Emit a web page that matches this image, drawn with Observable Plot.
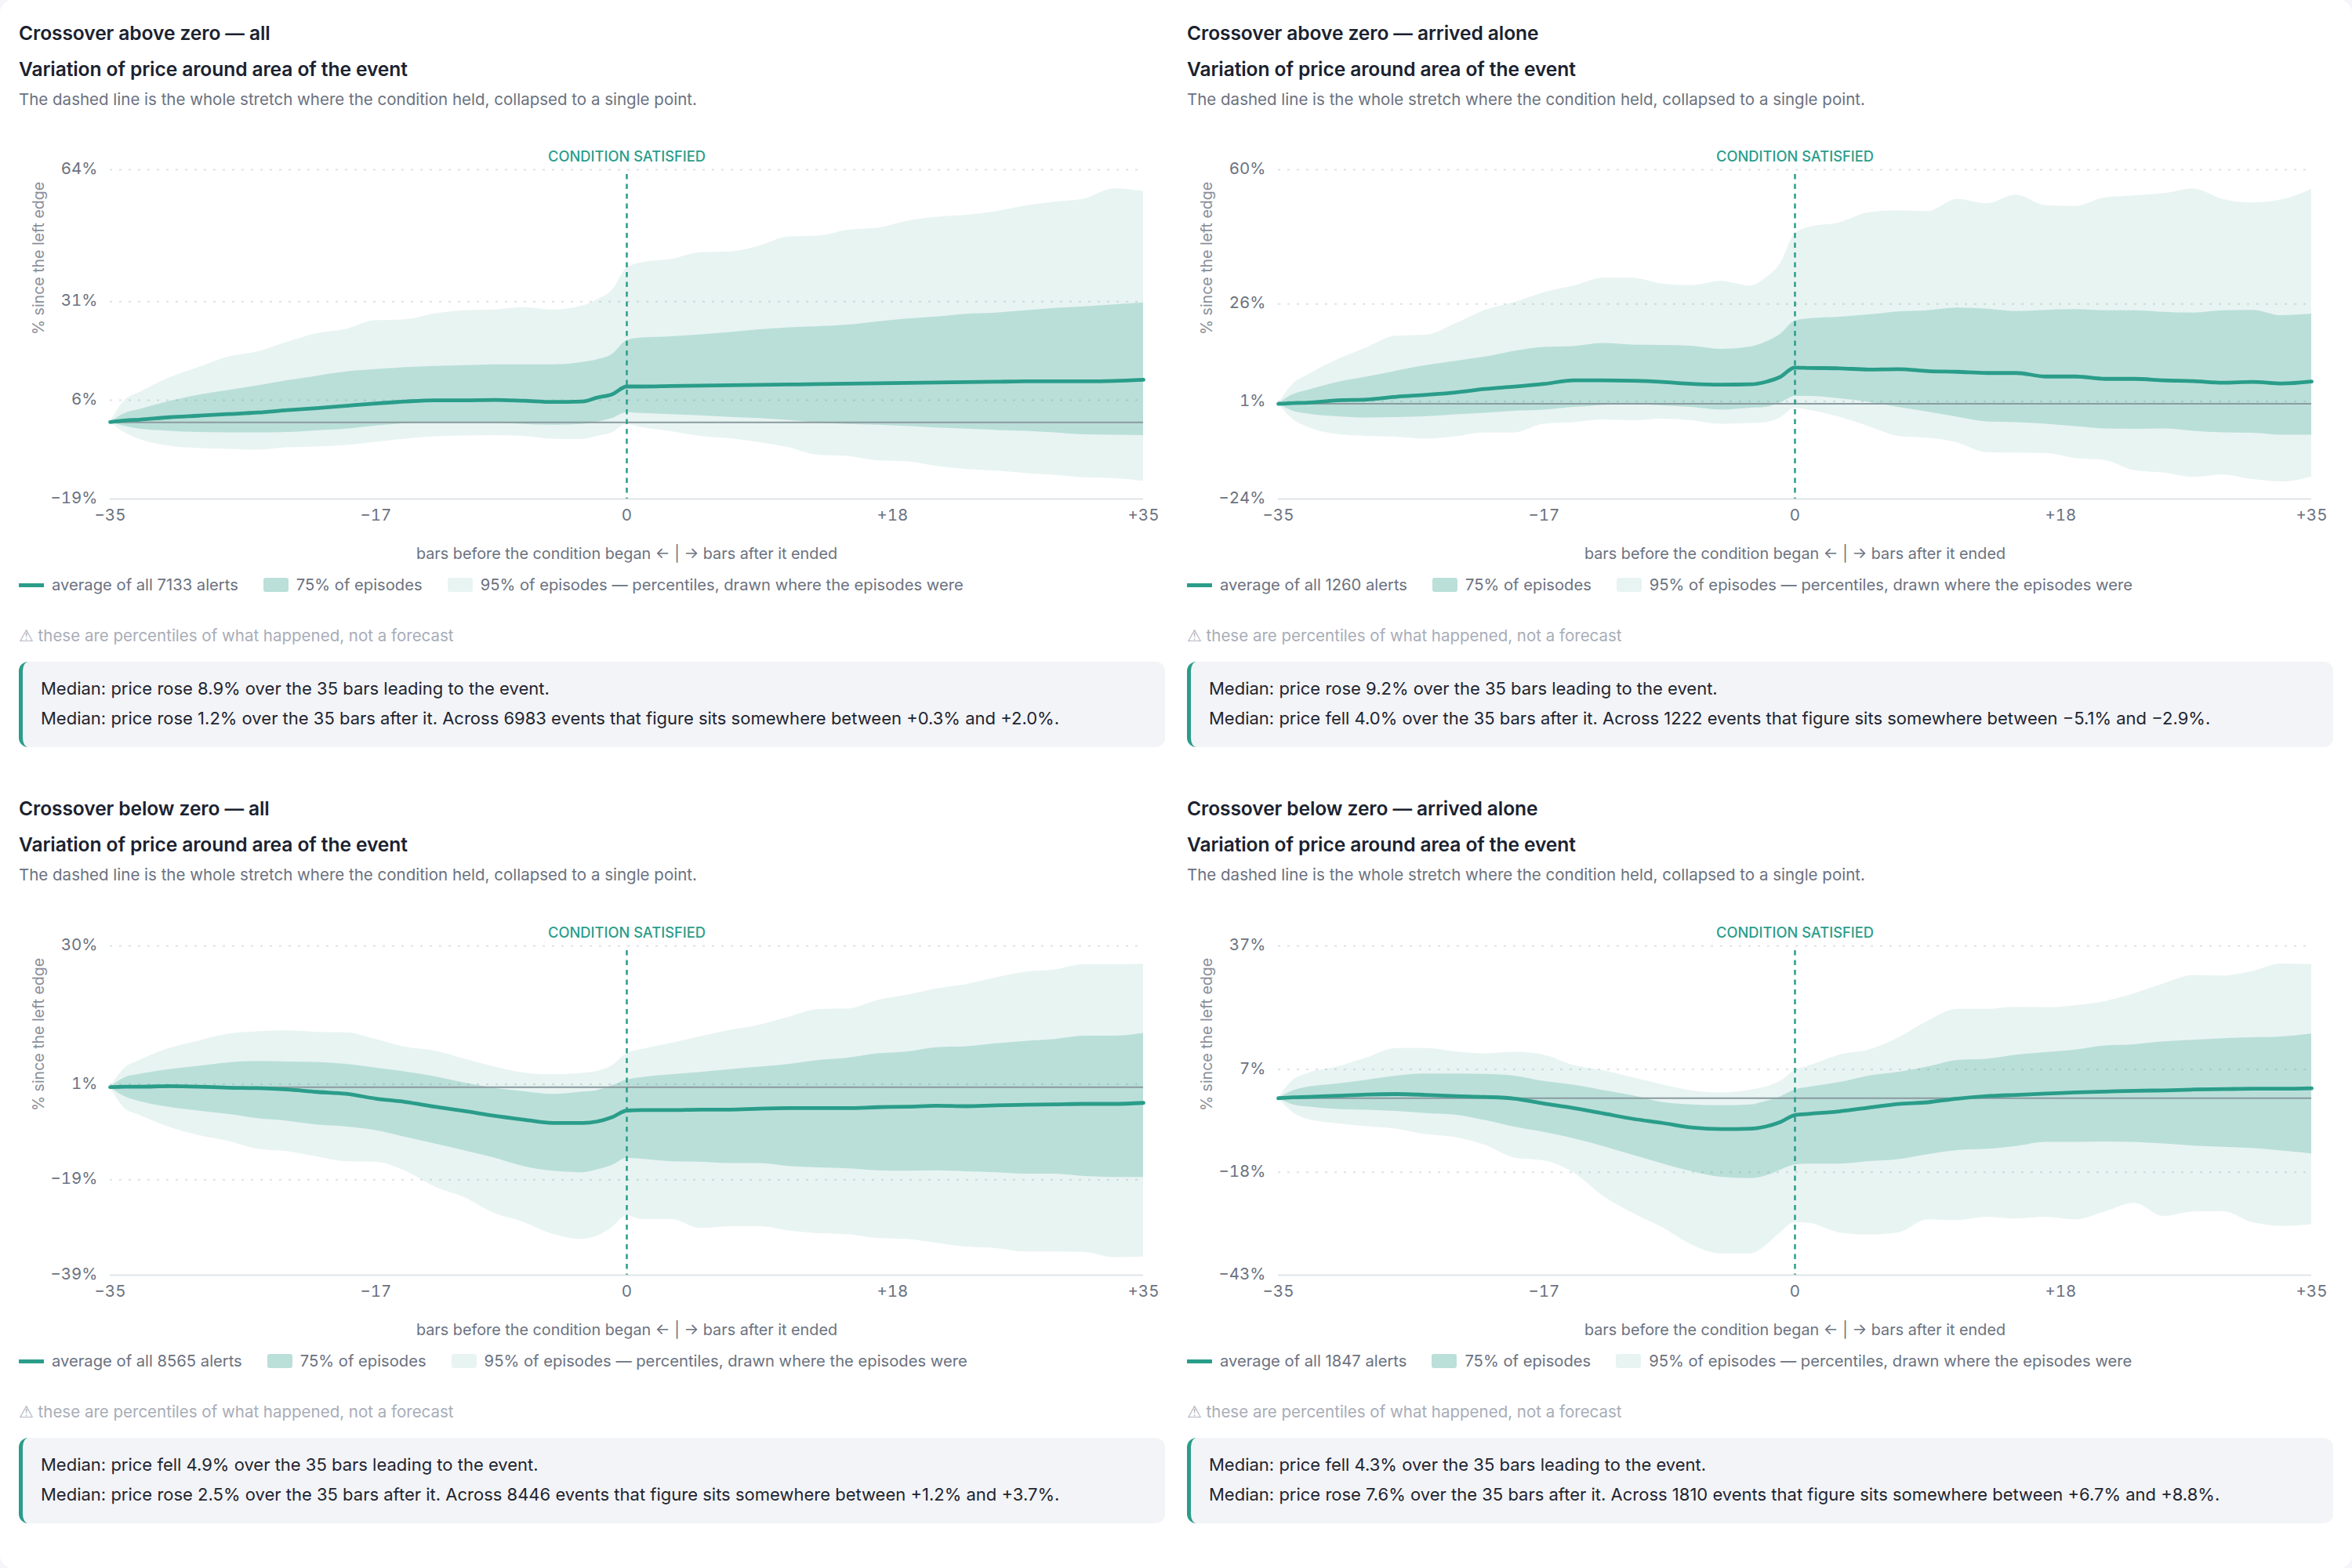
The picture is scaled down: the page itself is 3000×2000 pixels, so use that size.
<!DOCTYPE html>
<html>
<head>
<meta charset="utf-8">
<script src="https://cdn.jsdelivr.net/npm/d3@7"></script>
<script src="https://cdn.jsdelivr.net/npm/@observablehq/plot@0.6"></script>
<style>
html,body{margin:0;padding:0;background:#f5f6fa;}
body{width:3000px;height:2000px;position:relative;overflow:hidden;font-family:"Inter",sans-serif;}
.card{position:absolute;left:0;top:0;width:3000px;height:2000px;background:#fff;border-radius:16px;}
.panel{position:absolute;width:1462px;height:980px;}
.panel>*{position:absolute;left:0;}
.t1,.t2{font-size:24.6px;font-weight:600;color:#1a2230;line-height:30px;white-space:nowrap;letter-spacing:-0.1px;}
.t1{top:26.5px;}.t2{top:72.5px;}
.sub{top:113.5px;font-size:20.5px;color:#6b7280;line-height:26px;white-space:nowrap;}
.low .t1,.low .t2,.low .sub{transform:translateY(-1.5px);}
.chart{top:180px;}
.legend{top:734px;display:flex;align-items:center;font-size:20.2px;color:#6b7280;line-height:24px;white-space:nowrap;}
.legend i{display:block;margin-right:10px;}
.legend span{margin-right:32px;}
.line{width:32px;height:5px;background:#2a9d8a;}
.sw{width:32px;height:18px;border-radius:3px;}
.note{top:799px;font-size:20.5px;color:#a8adb8;line-height:24px;white-space:nowrap;}
.note b{font-family:"DejaVu Sans",sans-serif;font-weight:400;font-size:21px;}
.box{top:844px;width:1462px;height:109px;box-sizing:border-box;background:#f3f4f8;border-left:5px solid #2a9d8a;border-radius:12px;padding:14.5px 0 0 23px;font-size:22px;color:#1e2530;line-height:38px;white-space:nowrap;}
</style>
</head>
<body>
<div class="card"></div>
<script>
const bars = [-35,-34,-33,-31,-29,-27,-25,-23,-21,-19,-17,-15,-13,-11,-9,-7,-5,-3,-2,-1,0,1,3,5,7,9,11,13,15,17,19,21,23,25,27,29,31,33,35];
const xTicks = [-35,-17,0,18,35];

// Crossover above zero — all
const aHi95 = [0,5.6,7.6,11.3,13.9,16.6,17.9,20.3,22.5,23.6, 25.8,26.0,27.5,28.3,28.5,29.1,28.5,29.5,31.1,33.4, 39.1,40.4,41.3,43.0,43.2,44.7,47.0,47.2,48.7,49.2, 51.0,52.0,52.5,53.4,54.8,55.8,56.6,59.2,58.5];
const aHi75 = [0,2.3,3.3,5.3,6.9,8.1,9.3,10.6,11.7,12.8, 13.4,13.9,14.2,14.4,14.6,14.6,14.6,15.2,15.9,17.2, 20.7,21.4,21.7,22.2,22.8,23.5,24.0,24.3,24.7,25.5, 26.2,26.7,27.4,27.7,28.3,28.9,29.3,29.8,30.3];
const aMean = [0.1,0.5,0.7,1.3,1.7,2.1,2.5,3.1,3.6,4.2, 4.8,5.3,5.6,5.6,5.7,5.5,5.2,5.3,6.3,7.1, 9.1,9.1,9.2,9.3,9.4,9.5,9.6,9.7,9.8,9.9, 10.0,10.1,10.2,10.3,10.4,10.4,10.4,10.5,10.8];
const aLo75 = [0,-1.0,-1.7,-2.2,-2.5,-2.6,-2.6,-2.5,-2.1,-1.7, -0.9,-0.3,0,0,-0.1,-0.5,-0.7,-0.5,0.1,1.0, 2.5,2.3,2.0,1.7,1.3,1.0,0.5,-0.1,-0.5,-0.7, -1.0,-1.4,-1.7,-2.0,-2.2,-2.6,-3.1,-3.2,-3.3];
const aLo95 = [0,-2.6,-4.3,-6.0,-6.6,-6.8,-7.0,-6.4,-6.2,-5.8, -5.0,-4.2,-3.6,-3.4,-3.3,-3.5,-4.2,-4.3,-3.5,-2.6, -0.5,-1.3,-2.3,-3.5,-4.1,-5.1,-6.4,-8.3,-8.6,-9.7, -9.9,-11.1,-11.9,-12.3,-12.9,-13.4,-14.0,-14.2,-14.9];
const aTicks = [-19.4,5.6,30.6,64];

// Crossover above zero — arrived alone
const bHi95 = [0,5.1,7.4,11.3,14.4,17.4,17.6,20.5,24.0,26.0, 28.5,30.2,32.2,32.2,30.7,30.3,31.4,30.2,32.2,35.9, 43.6,45.3,46.4,49.0,49.5,49.3,52.4,51.3,53.5,50.8, 50.6,52.8,53.3,53.9,55.1,52.4,51.5,52.3,55.0];
const bHi75 = [0,2.4,3.5,5.5,6.9,8.4,9.8,10.9,12.0,13.5, 14.5,14.7,15.5,15.1,15.0,14.8,14.0,14.6,15.8,17.8, 21.2,21.8,22.2,22.8,23.6,23.9,24.6,24.3,23.7,24.0, 24.2,23.9,23.9,23.5,23.3,23.9,24.0,22.6,23.0];
const bMean = [0,0.2,0.3,0.9,1.1,1.8,2.3,2.9,3.8,4.4, 5.1,6.0,6.0,5.9,5.6,5.1,4.9,5.0,5.6,6.9, 9.3,9.2,9.1,8.8,8.9,8.4,8.2,7.9,7.9,7.0, 7.0,6.4,6.4,6.0,5.8,5.4,5.6,5.2,5.7];
const bLo75 = [0,-1.9,-2.6,-3.3,-3.6,-3.5,-3.3,-2.8,-2.4,-1.9, -1.6,-0.9,-0.4,-0.1,-0.5,-0.9,-1.6,-1.1,-0.9,0.2, 1.9,1.9,1.3,0.4,-0.9,-2.1,-3.4,-4.6,-4.8,-5.2, -5.8,-6.4,-6.5,-6.4,-7.0,-7.4,-7.5,-8.0,-8.0];
const bLo95 = [0,-4.0,-6.0,-7.8,-8.3,-8.5,-9.0,-8.4,-7.4,-7.4, -5.2,-4.8,-4.1,-4.3,-3.9,-4.3,-5.2,-5.0,-4.8,-3.6, -1.1,-1.7,-3.4,-5.8,-8.3,-8.8,-10.0,-12.5,-12.6,-12.7, -14.0,-14.5,-17.1,-17.7,-18.8,-18.2,-19.4,-20.0,-18.7];
const bTicks = [-24.4,0.6,25.6,60];

// Crossover below zero — all
const cHi95 = [0,4.0,5.6,8.1,9.7,11.1,11.6,11.8,11.5,11.4, 10.0,8.4,7.6,5.9,4.3,3.0,2.6,2.9,3.3,4.5, 7.0,7.9,9.2,10.6,11.9,13.0,14.7,16.3,16.4,18.2, 19.3,20.6,21.5,22.9,24.1,24.6,25.7,25.7,25.8];
const cHi75 = [0,2.0,2.7,3.7,4.4,5.1,5.4,5.3,5.2,4.8, 4.0,3.2,2.2,0.9,-0.2,-0.9,-1.5,-1.0,-0.7,0.3, 1.5,2.0,2.6,3.1,3.7,4.2,4.8,5.6,6.1,7.0, 7.4,8.3,8.5,9.1,9.6,10.0,10.7,10.7,11.3];
const cMean = [0,0.1,0.1,0.2,0.1,-0.1,-0.2,-0.5,-1.0,-1.4, -2.4,-3.1,-4.1,-5.0,-6.0,-6.8,-7.5,-7.5,-7.2,-6.3, -4.9,-4.8,-4.8,-4.7,-4.7,-4.5,-4.4,-4.4,-4.4,-4.2, -4.1,-3.9,-4.0,-3.8,-3.7,-3.6,-3.5,-3.5,-3.3];
const cLo75 = [0,-2.0,-3.0,-4.2,-5.0,-5.7,-6.6,-7.1,-7.9,-8.3, -9.1,-10.5,-11.9,-13.3,-14.8,-16.6,-17.6,-17.9,-17.3,-16.4, -14.9,-15.1,-15.6,-15.7,-16.0,-16.0,-16.6,-16.9,-17.1,-17.5, -17.6,-17.5,-17.7,-17.9,-18.2,-18.2,-18.7,-18.9,-18.9];
const cLo95 = [0,-4.5,-5.9,-8.4,-10.1,-11.3,-13.0,-13.5,-14.6,-15.6, -15.7,-17.6,-20.9,-23.1,-26.4,-28.3,-30.8,-31.9,-31.2,-29.4, -26.9,-27.7,-27.7,-29.6,-29.2,-29.2,-30.1,-30.7,-30.9,-31.7, -31.9,-32.7,-33.5,-33.8,-34.5,-34.5,-34.6,-35.7,-35.6];
const cTicks = [-39.4,-19.4,0.6,29.6];

// Crossover below zero — arrived alone
const dHi95 = [0,4.4,6.0,7.6,9.8,12.1,12.1,11.3,10.8,11.2, 10.5,8.0,6.7,5.0,3.3,1.8,1.3,2.0,2.7,4.1, 6.7,7.9,10.5,11.7,14.6,18.7,21.6,21.6,22.1,22.0, 22.5,23.5,25.4,27.8,29.8,29.7,30.8,32.6,32.5];
const dHi75 = [0,1.8,2.7,3.5,4.4,5.4,5.9,5.9,5.8,5.4, 4.1,3.2,1.9,0.6,-1.0,-1.6,-1.8,-1.6,-0.8,0.3, 2.0,2.7,3.8,5.4,6.3,7.6,9.2,9.5,10.5,11.1, 11.7,12.7,13.0,13.7,14.1,14.5,14.7,14.9,15.6];
const dMean = [0,0.2,0.3,0.6,0.9,1.0,0.8,0.5,0.3,-0.1, -1.3,-2.4,-3.7,-5.0,-6.0,-7.1,-7.5,-7.4,-6.9,-5.8, -4.1,-3.8,-3.2,-2.3,-1.4,-1.0,-0.1,0.5,0.8,1.1, 1.4,1.6,1.8,1.9,2.1,2.2,2.3,2.3,2.4];
const dLo75 = [0,-1.6,-2.1,-2.7,-2.9,-3.2,-3.7,-4.1,-5.4,-7.0, -8.3,-9.8,-11.7,-13.8,-15.9,-17.8,-19.2,-19.5,-18.9,-17.5, -16.2,-16.0,-16.0,-15.4,-14.9,-13.7,-12.7,-12.4,-11.7,-10.7, -10.7,-10.6,-10.7,-11.1,-11.6,-11.9,-12.2,-12.8,-13.5];
const dLo95 = [0,-3.5,-5.1,-6.2,-6.9,-7.5,-8.8,-9.5,-11.4,-14.5, -15.2,-18.1,-23.8,-27.9,-31.4,-35.6,-37.8,-37.8,-35.9,-32.7, -30.2,-30.4,-32.7,-33.2,-32.7,-29.5,-29.7,-28.9,-29.3,-28.9, -29.5,-27.6,-25.5,-28.7,-27.6,-27.5,-30.2,-31.1,-30.7];
const dTicks = [-43,-18,7,37];

const titles = ["Crossover above zero — all","Crossover above zero — arrived alone","Crossover below zero — all","Crossover below zero — arrived alone"];
const alerts = [7133,1260,8565,1847];
const firstLines = [
 "Median: price rose 8.9% over the 35 bars leading to the event.",
 "Median: price rose 9.2% over the 35 bars leading to the event.",
 "Median: price fell 4.9% over the 35 bars leading to the event.",
 "Median: price fell 4.3% over the 35 bars leading to the event."];
const secondLines = [
 "Median: price rose 1.2% over the 35 bars after it. Across 6983 events that figure sits somewhere between +0.3% and +2.0%.",
 "Median: price fell 4.0% over the 35 bars after it. Across 1222 events that figure sits somewhere between −5.1% and −2.9%.",
 "Median: price rose 2.5% over the 35 bars after it. Across 8446 events that figure sits somewhere between +1.2% and +3.7%.",
 "Median: price rose 7.6% over the 35 bars after it. Across 1810 events that figure sits somewhere between +6.7% and +8.8%."];

const TEAL = "#2a9d8a", INK = "#6b7280";
const series = [
 [aHi95,aHi75,aMean,aLo75,aLo95,aTicks],
 [bHi95,bHi75,bMean,bLo75,bLo95,bTicks],
 [cHi95,cHi75,cMean,cLo75,cLo95,cTicks],
 [dHi95,dHi75,dMean,dLo75,dLo95,dTicks]];
const slots = [[24,0],[1514,0],[24,990],[1514,990]];

const fmtX = d => d === 0 ? "0" : d > 0 ? "+" + d : "−" + Math.abs(d);
const fmtY = d => { const r = Math.round(d); return (r < 0 ? "−" + Math.abs(r) : r) + "%"; };

function chart(s) {
  const [hi95,hi75,mean,lo75,lo95,ticks] = s;
  const rows = bars.map((bar,i)=>({bar,hi95:hi95[i],hi75:hi75[i],mean:mean[i],lo75:lo75[i],lo95:lo95[i]}));
  return Plot.plot({
    width:1462, height:540, marginLeft:116, marginRight:28, marginTop:36, marginBottom:84,
    style:{fontFamily:"Inter, sans-serif",background:"transparent",overflow:"visible"},
    x:{domain:[-35,35],label:null},
    y:{domain:[ticks[0],ticks[3]],label:null},
    marks:[
      Plot.ruleY(ticks.slice(1),{stroke:"#dfe2e8",strokeWidth:2,strokeDasharray:"3 9"}),
      Plot.areaY(rows,{x:"bar",y1:"lo95",y2:"hi95",fill:TEAL,fillOpacity:0.11,curve:"monotone-x"}),
      Plot.areaY(rows,{x:"bar",y1:"lo75",y2:"hi75",fill:TEAL,fillOpacity:0.24,curve:"monotone-x"}),
      Plot.ruleY([ticks[0]],{stroke:"#e0e3e8",strokeWidth:2}),
      Plot.ruleY([0],{stroke:"#8a9a9f",strokeWidth:2}),
      Plot.lineY(rows,{x:"bar",y:"mean",stroke:TEAL,strokeWidth:4.8,curve:"monotone-x"}),
      Plot.ruleX([0],{stroke:TEAL,strokeWidth:2.5,strokeDasharray:"6.5 6",insetTop:6}),
      Plot.axisX({ticks:xTicks,tickFormat:fmtX,tickSize:0,tickPadding:13,fontSize:20.5,color:INK,label:null}),
      Plot.axisY({ticks:ticks,tickFormat:fmtY,tickSize:0,tickPadding:16,fontSize:20.5,color:INK,label:null,dy:-1}),
      Plot.text(["CONDITION SATISFIED"],{x:()=>0,frameAnchor:"top",lineAnchor:"middle",dy:-16.5,fill:TEAL,fontSize:18.3,fontWeight:500}),
      Plot.text(["% since the left edge"],{frameAnchor:"top-left",textAnchor:"middle",lineAnchor:"middle",rotate:-90,dx:-91,dy:113,fill:"#8a8f9a",fontSize:19.5}),
      Plot.text(["bars before the condition began ← | → bars after it ended"],{frameAnchor:"bottom",lineAnchor:"middle",dy:70,fill:INK,fontSize:19.8})
    ]
  });
}

slots.forEach(([left,top],i)=>{
  const p = document.createElement("div");
  p.className = "panel" + (i >= 2 ? " low" : "");
  p.style.left = left + "px";
  p.style.top = top + "px";
  p.innerHTML = `
    <div class="t1">${titles[i]}</div>
    <div class="t2">Variation of price around area of the event</div>
    <div class="sub">The dashed line is the whole stretch where the condition held, collapsed to a single point.</div>
    <div class="chart"></div>
    <div class="legend"><i class="line"></i><span>average of all ${alerts[i]} alerts</span><i class="sw" style="background:#bbdfd9"></i><span>75% of episodes</span><i class="sw" style="background:#e7f4f1"></i><span>95% of episodes — percentiles, drawn where the episodes were</span></div>
    <div class="note"><b>⚠</b> these are percentiles of what happened, not a forecast</div>
    <div class="box">${firstLines[i]}<br>${secondLines[i]}</div>`;
  p.querySelector(".chart").appendChild(chart(series[i]));
  document.body.appendChild(p);
});
</script>
</body>
</html>
